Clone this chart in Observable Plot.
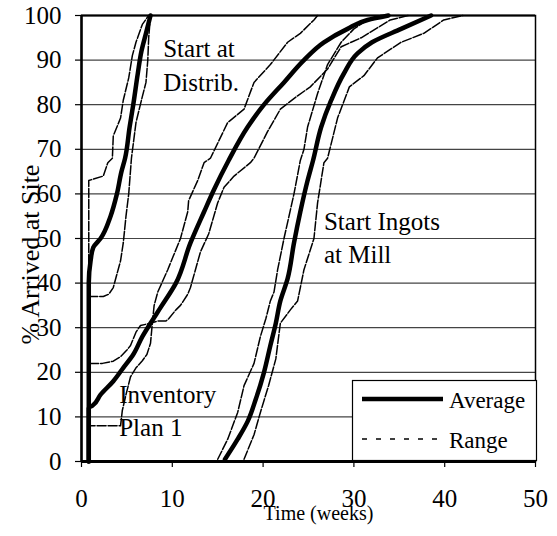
<!DOCTYPE html>
<html>
<head>
<meta charset="utf-8">
<script src="https://cdn.jsdelivr.net/npm/d3@7"></script>
<script src="https://cdn.jsdelivr.net/npm/@observablehq/plot@0.6"></script>
<style>
  body { margin: 0; background: white; }
  #wrap { position: relative; width: 557px; height: 536px; }
  #legend { position: absolute; left: 0; top: 0; pointer-events: none; }
  #wrap svg, #wrap svg text { font-family: "Liberation Serif", "Times New Roman", serif !important; }
</style>
</head>
<body>
<div id="wrap"></div>
<script>
// ---- data (x = weeks, y = % arrived) ----
const xTicks = [0, 10, 20, 30, 40, 50];
const yTicks = [0, 10, 20, 30, 40, 50, 60, 70, 80, 90, 100];

// Inventory Plan 1
const invAvg = [[0.8,0],[0.8,40],[1.0,45],[1.3,48],[2.1,50],[3.2,55],[3.9,60],[4.4,65],[4.8,68],[5.3,75],[5.7,80],[6.2,87],[6.6,92],[7.1,96],[7.6,100]];
const invRangeLo = [[0.8,0],[0.8,63],[2.4,64],[2.9,67],[3.4,68],[3.5,73],[4.3,77],[4.6,81],[5.2,86],[5.6,91],[6.0,94],[6.7,98],[7.4,100]];
const invRangeHi = [[0.8,0],[0.8,37],[2.4,37],[3.0,37.5],[3.5,39],[3.9,42],[4.3,45],[4.6,49],[4.9,55],[5.2,60],[5.5,68],[6.0,76],[6.6,81],[7.1,85],[7.3,90],[7.4,95],[7.6,100]];

// Start at Distrib.
const distAvg = [[0.8,0],[0.8,12],[1.2,12.5],[2.1,15],[3.5,18],[4.6,21],[5.7,24],[6.7,28],[7.6,31],[8.7,34.5],[10.4,40],[12.0,49],[13.5,56],[14.6,61],[16.2,67.5],[18.3,75],[20.1,80],[22.3,85],[24.5,90],[26.7,94],[29.3,97],[31.5,99],[33.8,100]];
const distRangeLo = [[0.8,0],[0.8,8],[4.3,8],[4.5,11.5],[4.9,15],[5.4,19],[6.0,21],[6.7,22.6],[7.2,24],[7.6,26.5],[7.8,31],[8.0,35],[8.4,38],[9.5,43],[10.1,46],[10.9,50],[11.7,56],[11.8,58.5],[12.8,63],[13.5,67],[14.2,68],[16.1,76],[17.9,79],[19.0,85],[20.8,89],[22.7,94],[24.1,96],[25.6,99],[26.0,100]];
const distRangeHi = [[0.8,0],[0.8,22],[2.3,22],[3.5,22.5],[4.3,23.5],[5.0,25],[5.4,26],[6.0,29],[6.5,30.5],[7.6,31],[8.4,31.5],[9.3,31.5],[9.6,32],[10.4,34],[10.9,35],[11.7,37.5],[12.0,39],[13.1,47],[14.0,51],[15.0,58],[15.7,61.5],[16.8,64],[18.6,67],[19.0,68],[20.5,74],[21.9,79],[23.8,82],[25.2,84],[27.1,88],[28.6,93],[30.8,95],[34.0,99],[36.0,100]];

// Start Ingots at Mill
const millAvg = [[15.8,0.5],[17.2,5],[18.3,9],[19.2,14],[20.1,20],[20.8,26],[21.4,31],[21.9,36],[22.7,41],[23.4,49],[24.1,56],[24.9,63],[25.5,67.5],[26.4,75],[27.5,81],[28.9,87],[30.4,91.5],[32.0,94],[35.2,97],[38.5,100]];
const millRangeLo = [[15.0,0.5],[16.1,5],[17.2,11],[17.9,17],[19.0,22],[19.7,28],[20.3,32],[20.8,36],[21.2,38],[21.6,43],[22.3,50],[23.4,60],[24.1,67.5],[24.5,70],[24.9,75],[26.0,82.5],[27.1,89],[28.6,94],[30.0,97],[31.5,99],[33.0,100]];
const millRangeHi = [[17.9,0.5],[19.0,6],[19.7,11],[20.6,17],[21.4,23],[21.9,31],[23.0,34],[23.8,36],[24.5,43],[25.6,50],[26.0,58],[26.7,67],[27.1,68],[28.2,77],[29.5,84],[31.1,86.5],[32.6,90.5],[35.2,94],[37.7,96],[39.9,99],[42.0,100]];

// annotations
const noteText = ["Start at", "Distrib.", "Start Ingots", "at Mill", "Inventory", "Plan 1"];
const noteX = [9.0, 9.0, 26.7, 26.7, 4.15, 4.15];
const noteY = [92.4, 84.8, 53.8, 46.2, 15.0, 7.4];

const xLabel = "Time (weeks)";
const yLabel = "% Arrived at Site";
const legendLabels = ["Average", "Range"];

// ---- chart ----
const avgSeries = [invAvg, distAvg, millAvg];
const rangeSeries = [invRangeLo, invRangeHi, distRangeLo, distRangeHi, millRangeLo, millRangeHi];
const notes = noteText.map((t, i) => ({t, x: noteX[i], y: noteY[i]}));
const FONT = "'Liberation Serif', 'Times New Roman', serif";

const chart = Plot.plot({
  width: 557,
  height: 536,
  marginLeft: 81,
  marginRight: 22,
  marginTop: 15,
  marginBottom: 75,
  style: {fontFamily: FONT, fontSize: "25px", background: "white", color: "black", overflow: "visible"},
  x: {domain: [0, 50]},
  y: {domain: [0, 100]},
  marks: [
    Plot.gridY(yTicks, {stroke: "#444", strokeOpacity: 1, strokeWidth: 1.2}),
    Plot.frame({stroke: "black", strokeWidth: 1.5}),
    Plot.ruleY([100], {stroke: "black", strokeWidth: 2}),
    Plot.ruleX([0], {stroke: "black", strokeWidth: 2.5}),
    Plot.ruleY([0], {stroke: "black", strokeWidth: 3}),
    Plot.axisX({ticks: xTicks, tickSize: 6, tickPadding: 22, label: null, fontSize: 25, strokeWidth: 1.2}),
    Plot.axisY({ticks: yTicks, tickSize: 6, tickPadding: 14, label: null, fontSize: 25, strokeWidth: 1.2}),
    ...rangeSeries.map(s => Plot.line(s, {x: d => d[0], y: d => d[1], stroke: "black", strokeWidth: 1.5, strokeDasharray: "9,2"})),
    ...avgSeries.map(s => Plot.line(s, {x: d => d[0], y: d => d[1], stroke: "black", strokeWidth: 4.5, curve: "monotone-y", strokeLinejoin: "round"})),
    Plot.text(notes, {x: "x", y: "y", text: "t", textAnchor: "start", fontSize: 25, fill: "black"}),
    Plot.text([xLabel], {frameAnchor: "bottom", textAnchor: "middle", dx: 10, dy: 58, fontSize: 20, fill: "black"}),
    Plot.text([yLabel], {frameAnchor: "left", textAnchor: "middle", rotate: -90, dx: -51, dy: 16, fontSize: 26, fill: "black"})
  ]
});

const wrap = document.getElementById("wrap");
wrap.appendChild(chart);

// legend overlay (box sits on the plot's lower right)
const NS = "http://www.w3.org/2000/svg";
const lg = document.createElementNS(NS, "svg");
lg.setAttribute("id", "legend");
lg.setAttribute("width", 557);
lg.setAttribute("height", 536);
function el(tag, attrs) {
  const e = document.createElementNS(NS, tag);
  for (const k in attrs) e.setAttribute(k, attrs[k]);
  lg.appendChild(e);
  return e;
}
el("rect", {x: 352.5, y: 380.5, width: 184, height: 80, fill: "white", stroke: "black", "stroke-width": 1.2});
el("line", {x1: 362, x2: 443, y1: 399, y2: 399, stroke: "black", "stroke-width": 4.5});
el("line", {x1: 362, x2: 445, y1: 439, y2: 439, stroke: "black", "stroke-width": 1.5, "stroke-dasharray": "5,9"});
el("text", {x: 449, y: 408, "font-size": 23, fill: "black"}).textContent = legendLabels[0];
el("text", {x: 449, y: 448, "font-size": 23, fill: "black"}).textContent = legendLabels[1];
wrap.appendChild(lg);
</script>
</body>
</html>
